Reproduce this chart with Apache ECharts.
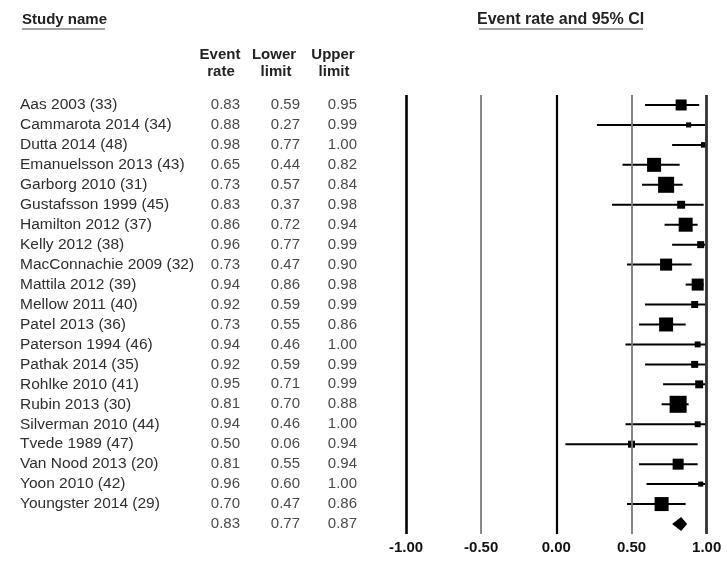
<!DOCTYPE html>
<html>
<head>
<meta charset="utf-8">
<script src="https://cdn.jsdelivr.net/npm/echarts@6/dist/echarts.min.js"></script>
<style>
  html, body { margin: 0; padding: 0; background: #fff; }
  #chart { width: 727px; height: 565px; }
</style>
</head>
<body>
<div id="chart"></div>
<script>
// ---------- data ----------
const studies = [
  'Aas 2003 (33)', 'Cammarota 2014 (34)', 'Dutta 2014 (48)', 'Emanuelsson 2013 (43)',
  'Garborg 2010 (31)', 'Gustafsson 1999 (45)', 'Hamilton 2012 (37)', 'Kelly 2012 (38)',
  'MacConnachie 2009 (32)', 'Mattila 2012 (39)', 'Mellow 2011 (40)', 'Patel 2013 (36)',
  'Paterson 1994 (46)', 'Pathak 2014 (35)', 'Rohlke 2010 (41)', 'Rubin 2013 (30)',
  'Silverman 2010 (44)', 'Tvede 1989 (47)', 'Van Nood 2013 (20)', 'Yoon 2010 (42)',
  'Youngster 2014 (29)'
];
const eventRate  = [0.83, 0.88, 0.98, 0.65, 0.73, 0.83, 0.86, 0.96, 0.73, 0.94, 0.92, 0.73, 0.94, 0.92, 0.95, 0.81, 0.94, 0.50, 0.81, 0.96, 0.70];
const lowerLimit = [0.59, 0.27, 0.77, 0.44, 0.57, 0.37, 0.72, 0.77, 0.47, 0.86, 0.59, 0.55, 0.46, 0.59, 0.71, 0.70, 0.46, 0.06, 0.55, 0.60, 0.47];
const upperLimit = [0.95, 0.99, 1.00, 0.82, 0.84, 0.98, 0.94, 0.99, 0.90, 0.98, 0.99, 0.86, 1.00, 0.99, 0.99, 0.88, 1.00, 0.94, 0.94, 1.00, 0.86];
// relative study weights (%)
const weights    = [5.2, 1.1, 1.3, 8.4, 11.0, 2.7, 8.4, 2.1, 6.2, 6.2, 2.1, 8.4, 1.5, 2.1, 2.7, 12.4, 1.5, 2.1, 5.2, 1.1, 8.4];
// pooled estimate
const summaryRate  = [0.83];
const summaryLower = [0.77];
const summaryUpper = [0.87];
const xTicks = [-1.00, -0.50, 0.00, 0.50, 1.00];

// ---------- derived ----------
const rowNames = studies.concat(['']);
const rates  = eventRate.concat(summaryRate);
const lowers = lowerLimit.concat(summaryLower);
const uppers = upperLimit.concat(summaryUpper);

const seriesData = rowNames.map((n, i) => [
  rates[i], i, lowers[i], uppers[i],
  i < studies.length ? weights[i] : 0,
  i < studies.length ? 0 : 1
]);

const FONT = '"Liberation Sans", Arial, sans-serif';
const chart = echarts.init(document.getElementById('chart'), null, { renderer: 'canvas' });

function numAxis(arr, margin) {
  return {
    type: 'category', data: rowNames, inverse: true, gridIndex: 0, position: 'left', offset: 0,
    axisLine: { show: false }, axisTick: { show: false }, splitLine: { show: false },
    axisLabel: {
      interval: 0, margin: margin, fontFamily: FONT, fontSize: 15, color: '#4a4a4a',
      formatter: (v, idx) => arr[idx].toFixed(2)
    }
  };
}

const lineDefs = [
  { v: xTicks[0], color: '#000', width: 2.6 },
  { v: xTicks[1], color: '#7a7a7a', width: 1.8 },
  { v: xTicks[2], color: '#000', width: 2.2 },
  { v: xTicks[3], color: '#7a7a7a', width: 1.8 },
  { v: xTicks[4], color: '#333', width: 2.8 }
];

const option = {
  animation: false,
  backgroundColor: '#fff',
  grid: { left: 406, right: 20.3, top: 95, bottom: 31, containLabel: false, outerBoundsMode: 'none' },
  xAxis: {
    type: 'value', min: -1, max: 1, interval: 0.5,
    axisLine: { show: false }, axisTick: { show: false }, splitLine: { show: false },
    axisLabel: {
      margin: 6, fontFamily: FONT, fontSize: 15, fontWeight: 'bold', color: '#111',
      formatter: v => v.toFixed(2)
    }
  },
  yAxis: [
    {
      type: 'category', data: rowNames, inverse: true, position: 'left', offset: 0,
      axisLine: { show: false }, axisTick: { show: false }, splitLine: { show: false },
      axisLabel: { interval: 0, align: 'left', margin: 386, fontFamily: FONT, fontSize: 15.5, color: '#2e2e2e' }
    },
    numAxis(rates, 166),
    numAxis(lowers, 106),
    numAxis(uppers, 49)
  ],
  graphic: [
    { type: 'text', x: 22, y: 20, style: { text: 'Study name', font: 'bold 15px ' + FONT, fill: '#222', align: 'left', verticalAlign: 'middle' } },
    { type: 'line', shape: { x1: 22, y1: 29, x2: 105, y2: 29 }, style: { stroke: '#444', lineWidth: 1 } },
    { type: 'text', x: 477, y: 20, style: { text: 'Event rate and 95% CI', font: 'bold 16px ' + FONT, fill: '#222', align: 'left', verticalAlign: 'middle' } },
    { type: 'line', shape: { x1: 479, y1: 29, x2: 643, y2: 29 }, style: { stroke: '#444', lineWidth: 1 } },
    { type: 'text', x: 220, y: 55, style: { text: 'Event', font: 'bold 15px ' + FONT, fill: '#222', align: 'center', verticalAlign: 'middle' } },
    { type: 'text', x: 221, y: 72, style: { text: 'rate', font: 'bold 15px ' + FONT, fill: '#222', align: 'center', verticalAlign: 'middle' } },
    { type: 'text', x: 274, y: 55, style: { text: 'Lower', font: 'bold 15px ' + FONT, fill: '#222', align: 'center', verticalAlign: 'middle' } },
    { type: 'text', x: 276, y: 72, style: { text: 'limit', font: 'bold 15px ' + FONT, fill: '#222', align: 'center', verticalAlign: 'middle' } },
    { type: 'text', x: 333, y: 55, style: { text: 'Upper', font: 'bold 15px ' + FONT, fill: '#222', align: 'center', verticalAlign: 'middle' } },
    { type: 'text', x: 334, y: 72, style: { text: 'limit', font: 'bold 15px ' + FONT, fill: '#222', align: 'center', verticalAlign: 'middle' } }
  ],
  series: [
    {
      type: 'line', data: [], xAxisIndex: 0, yAxisIndex: 0, silent: true,
      markLine: {
        silent: true, symbol: ['none', 'none'], label: { show: false }, animation: false,
        data: lineDefs.map(d => ({ xAxis: d.v, lineStyle: { color: d.color, width: d.width, type: 'solid' } }))
      }
    },
    {
      type: 'custom', xAxisIndex: 0, yAxisIndex: 0, silent: true,
      encode: { x: [0, 2, 3], y: 1 },
      data: seriesData,
      renderItem: function (params, api) {
        const row = api.value(1);
        const pRate = api.coord([api.value(0), row]);
        const pLo = api.coord([api.value(2), row]);
        const pHi = api.coord([api.value(3), row]);
        const isSummary = api.value(5) === 1;
        if (isSummary) {
          const h = 7;
          return {
            type: 'polygon',
            shape: { points: [[pLo[0], pRate[1]], [pRate[0], pRate[1] - h], [pHi[0], pRate[1]], [pRate[0], pRate[1] + h]] },
            style: { fill: '#000' }
          };
        }
        const side = 4.83 * Math.sqrt(api.value(4));
        return {
          type: 'group',
          children: [
            { type: 'line', shape: { x1: pLo[0], y1: pLo[1], x2: pHi[0], y2: pHi[1] }, style: { stroke: '#000', lineWidth: 2 } },
            { type: 'rect', shape: { x: pRate[0] - side / 2, y: pRate[1] - side / 2, width: side, height: side }, style: { fill: '#000' } }
          ]
        };
      }
    }
  ]
};
chart.setOption(option);
</script>
</body>
</html>
